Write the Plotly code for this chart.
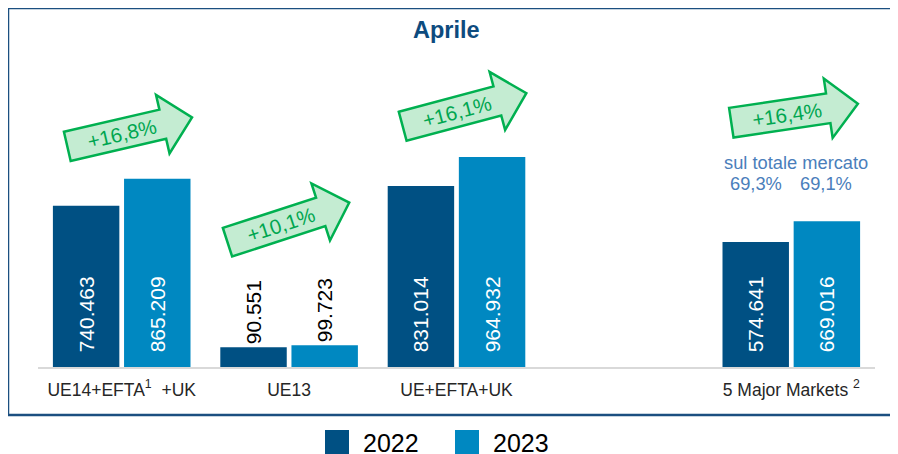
import math
import plotly.graph_objects as go

# data
categories = ["UE14+EFTA<sup>1</sup>\u00a0\u00a0+UK", "UE13", "UE+EFTA+UK", "5 Major Markets\u00a0<sup>2</sup>"]
axis_slots = ["UE14+EFTA<sup>1</sup>\u00a0\u00a0+UK", "UE13", "UE+EFTA+UK", "\u00a0", "5 Major Markets\u00a0<sup>2</sup>"]
values_2022 = [740463, 90551, 831014, 574641]
values_2023 = [865209, 99723, 964932, 669016]
growth_labels = ["+16,8%", "+10,1%", "+16,1%", "+16,4%"]
share_labels = ["69,3%", "69,1%"]

C2022 = "#005083"
C2023 = "#0088c1"

W, H = 898, 454
OFF = 8  # page body margin; screen positions below are measured on the page
L, R, T, B = 38 - OFF, 31, 40 - OFF, H - (367 - OFF)


def px(x, y):
    # page pixel -> paper coords
    x, y = x - OFF, y - OFF
    return (x - L) / (W - L - R), (H - B - y) / (H - T - B)


def fmt(v):
    return f"{v:,}".replace(",", ".")


def bar_text(vals):
    txt, pos, col = [], [], []
    for v in vals:
        if v < 200000:
            txt.append(fmt(v)); pos.append("outside"); col.append("black")
        else:
            txt.append("\u00a0\u00a0" + fmt(v)); pos.append("inside"); col.append("white")
    return txt, pos, col


fig = go.Figure()
for name, vals, color in [("2022", values_2022, C2022), ("2023", values_2023, C2023)]:
    txt, pos, col = bar_text(vals)
    fig.add_trace(go.Bar(
        x=categories, y=vals, name=name, marker=dict(color=color, line=dict(width=0)),
        text=txt, texttemplate="%{text}", textposition=pos, textangle=-90,
        insidetextanchor="start", textfont=dict(size=21, color=col),
        cliponaxis=False, showlegend=False,
    ))

fig.update_layout(
    width=W, height=H, margin=dict(l=L, r=R, t=T, b=B),
    paper_bgcolor="white", plot_bgcolor="white",
    barmode="group", bargap=0.15, bargroupgap=0.066,
    font=dict(family="Liberation Sans, Arial", color="#262626"),
    showlegend=False,
)
fig.update_xaxes(
    type="category", categoryorder="array", categoryarray=axis_slots, range=[-0.5, 4.5],
    showline=True, linecolor="#d9d9d9", linewidth=1.5, showgrid=False,
    ticks="", ticklabelstandoff=6, tickfont=dict(size=17.5, color="#262626"),
)
fig.update_yaxes(visible=False, range=[0, (H - T - B) / 217.7e-6], showgrid=False)

shapes = []
ann = []

# outer frame
x0, y0 = px(8, 8)
x1, y1 = px(915, 415)
shapes.append(dict(type="rect", xref="paper", yref="paper", x0=x0, y0=y1, x1=x1, y1=y0,
                   line=dict(color="#1b4f80", width=2.5), fillcolor="rgba(0,0,0,0)", layer="below"))

# growth arrows
arrows = [((67.3, 146.3), 13), ((227.5, 242.2), 18), ((402.7, 126.3), 15), ((731.3, 122.7), 8.5)]
tmpl = [(0, 15), (98, 15), (98, 30), (128, 0), (98, -30), (98, -15), (0, -15)]
for (tail, ang), lab in zip(arrows, growth_labels):
    a = math.radians(ang)
    d = (math.cos(a), -math.sin(a))
    n = (-math.sin(a), -math.cos(a))
    pts = []
    for u, v in tmpl:
        sx = tail[0] + u * d[0] + v * n[0]
        sy = tail[1] + u * d[1] + v * n[1]
        pts.append(px(sx, sy))
    path = "M" + " L".join(f"{p[0]:.5f},{p[1]:.5f}" for p in pts) + " Z"
    shapes.append(dict(type="path", xref="paper", yref="paper", path=path,
                       fillcolor="#c4ecd2", line=dict(color="#00b050", width=2.5)))
    tx, ty = px(tail[0] + 56 * d[0], tail[1] + 56 * d[1])
    ann.append(dict(x=tx, y=ty, xref="paper", yref="paper", text=lab, showarrow=False,
                    textangle=-ang, font=dict(size=20.5, color="#00a650"),
                    xanchor="center", yanchor="middle"))

# title
tx, ty = px(446, 30)
ann.append(dict(x=tx, y=ty, xref="paper", yref="paper", text="<b>Aprile</b>", showarrow=False,
                font=dict(size=23.5, color="#0d4b7e"), xanchor="center", yanchor="middle"))

# share of total market
tx, ty = px(795.5, 162)
ann.append(dict(x=tx, y=ty, xref="paper", yref="paper", text="sul totale mercato", showarrow=False,
                font=dict(size=18.3, color="#4a7ebb"), xanchor="center", yanchor="middle"))
for cx, lab in zip([756, 825.5], share_labels):
    tx, ty = px(cx, 183)
    ann.append(dict(x=tx, y=ty, xref="paper", yref="paper", text=lab, showarrow=False,
                    font=dict(size=18.3, color="#4a7ebb"), xanchor="center", yanchor="middle"))

# legend
for sx, name, color in [(325, "2022", C2022), (455, "2023", C2023)]:
    ax0, ay0 = px(sx, 430)
    ax1, ay1 = px(sx + 24, 462)
    shapes.append(dict(type="rect", xref="paper", yref="paper", x0=ax0, y0=ay1, x1=ax1, y1=ay0,
                       fillcolor=color, line=dict(width=0)))
    tx, ty = px(sx + 36, 443)
    ann.append(dict(x=tx, y=ty, xref="paper", yref="paper", text=name, showarrow=False,
                    font=dict(size=25, color="black"), xanchor="left", yanchor="middle"))

fig.update_layout(shapes=shapes, annotations=ann)
fig.write_html("out.html")
